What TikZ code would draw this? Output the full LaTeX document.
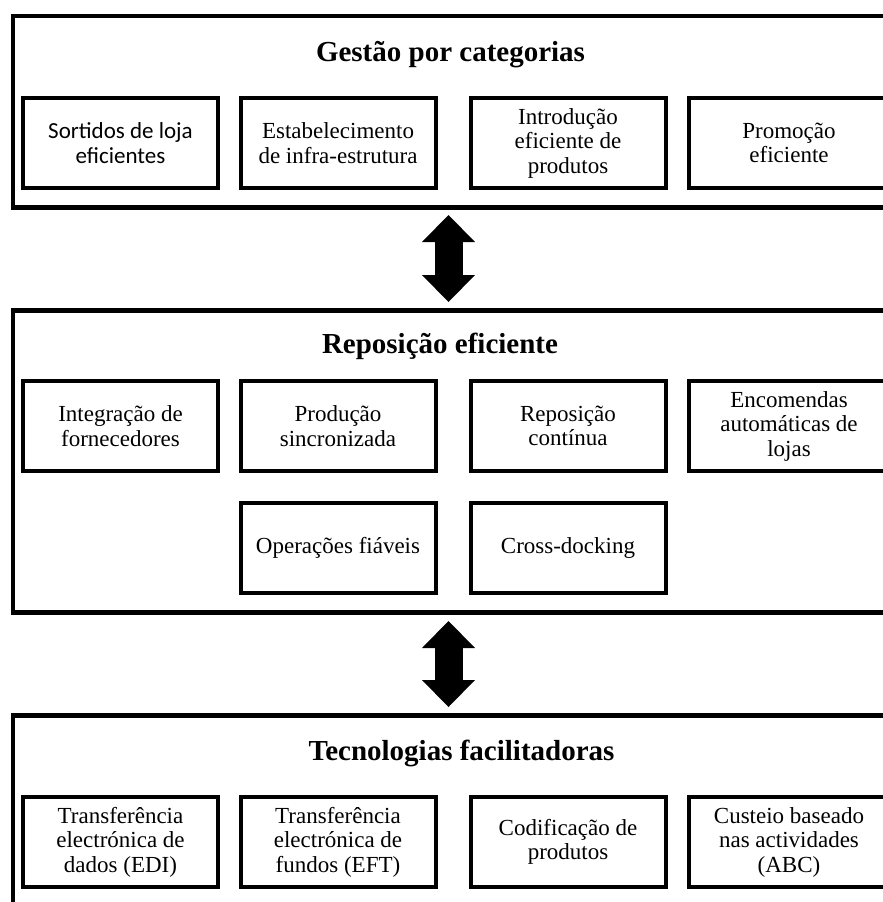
\documentclass[tikz,border=0pt]{standalone}
\usepackage{fontspec}
\setmainfont{Liberation Serif}
\newfontfamily\carlito{Carlito}
\usetikzlibrary{positioning,arrows.meta}

\begin{document}
\begin{tikzpicture}[x=1pt,y=-1pt,
  panel/.style={rectangle,draw,line width=4.5pt,inner sep=0pt,outer sep=0pt,minimum width=882pt},
  head/.style={font=\fontsize{29}{32}\selectfont\bfseries,anchor=base},
  box/.style={rectangle,draw,line width=4pt,minimum width=195pt,minimum height=90pt,inner sep=0pt,align=center,font=\fontsize{23}{24.5}\selectfont},
  edgebox/.style={box,minimum width=200pt},
  link/.style={line width=28pt,{Triangle[width=53pt,length=27pt,line width=0pt]}-{Triangle[width=53pt,length=27pt,line width=0pt]}}]
  \useasboundingbox (0,0) rectangle (883,902);
  \clip (0,0) rectangle (883,902);
  % Gestao por categorias
  \node[panel,minimum height=191.7pt] (gc) at (453.75,111.65) {};
  \node[head] (gct) at (450.5,61) {Gestão por categorias};
  \node[box,font=\fontsize{23}{24.5}\selectfont\carlito] (g1) at (120.5,143) {Sortidos de loja\\eficientes};
  \node[box] (g2) at (338,143) {Estabelecimento\\de infra-estrutura};
  \node[box] (g3) at (568,143) {Introdução\\eficiente de\\produtos};
  \node[edgebox] (g4) at (789,143) {Promoção\\eficiente};
  % Reposicao eficiente
  \node[panel,minimum height=302pt] (re) at (453.75,461.5) {};
  \node[head] (ret) at (440,353) {Reposição eficiente};
  \node[box] (r1) at (120.5,426) {Integração de\\fornecedores};
  \node[box] (r2) at (338,426) {Produção\\sincronizada};
  \node[box] (r3) at (568,426) {Reposição\\contínua};
  \node[edgebox] (r4) at (789,426) {Encomendas\\automáticas de\\lojas};
  \node[box] (r5) at (338,547.5) {Operações fiáveis};
  \node[box] (r6) at (568,547.5) {Cross-docking};
  % Tecnologias facilitadoras
  \node[panel,minimum height=284.5pt] (tf) at (453.75,857.75) {};
  \node[head] (tft) at (461.5,760) {Tecnologias facilitadoras};
  \node[box] (t1) at (120.5,842) {Transferência\\electrónica de\\dados (EDI)};
  \node[box] (t2) at (338,842) {Transferência\\electrónica de\\fundos (EFT)};
  \node[box] (t3) at (568,842) {Codificação de\\produtos};
  \node[edgebox] (t4) at (789,842) {Custeio baseado\\nas actividades\\(ABC)};
  % links
  \draw[link] ([shift={(-5.25,7.5)}]gc.south) -- ([shift={(-5.25,-8.5)}]re.north);
  \draw[link] ([shift={(-5.25,8.5)}]re.south) -- ([shift={(-5.25,-8.5)}]tf.north);
\end{tikzpicture}
\end{document}
